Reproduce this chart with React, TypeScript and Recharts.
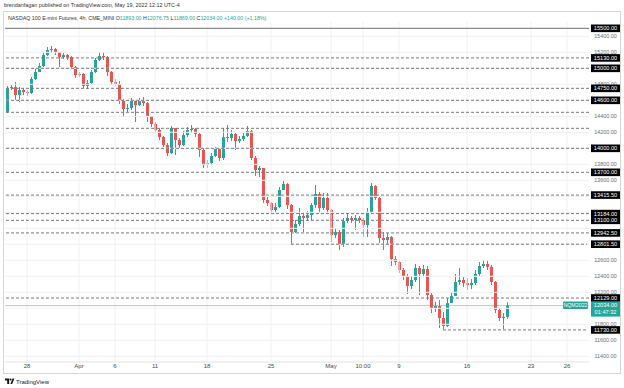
import React from 'react';
import { ComposedChart, Bar, XAxis, YAxis, ReferenceLine } from 'recharts';

// ---------- data ----------
const OPENS = [
  14454, 14754, 14766, 14666, 14729, 14704, 14691, 14866, 14954, 15029,
  15166, 15229, 15241, 15204, 15141, 15166, 15141, 15016, 14916, 14929,
  14779, 14816, 14954, 15104, 15154, 15141, 14954, 14829, 14804, 14604,
  14491, 14504, 14591, 14541, 14591, 14566, 14404, 14304, 14229, 14141,
  14041, 13941, 14254, 14104, 14041, 14166, 14229, 14241, 14179, 13979,
  13791, 13816, 13904, 13991, 13879, 14141, 14129, 14179, 14091, 14116,
  14154, 14216, 13879, 13729, 13754, 13354, 13316, 13229, 13266, 13479,
  13554, 13291, 12954, 13054, 13154, 13129, 13166, 13291, 13429, 13254,
  13379, 13229, 12916, 12954, 12804, 13091, 13129, 13104, 13129, 13104,
  13041, 13204, 13529, 13379, 12879, 12854, 12891, 12616, 12579, 12479,
  12404, 12279, 12354, 12504, 12429, 12491, 12166, 12004, 12029, 11879,
  11779, 12066, 12154, 12329, 12354, 12316, 12291, 12316, 12429, 12529,
  12554, 12519, 12329, 11979, 11879, 11893,
];
const HIGHS = [
  14779, 14791, 14829, 14766, 14754, 14729, 14891, 15004, 15066, 15204,
  15266, 15279, 15254, 15204, 15191, 15179, 15154, 15029, 14954, 14941,
  14854, 14979, 15129, 15204, 15191, 15154, 14966, 14866, 14841, 14616,
  14554, 14629, 14604, 14629, 14641, 14579, 14404, 14329, 14254, 14154,
  14066, 14279, 14254, 14129, 14216, 14266, 14291, 14254, 14191, 14004,
  13854, 13941, 14016, 14004, 14254, 14291, 14229, 14191, 14154, 14191,
  14279, 14229, 13904, 13779, 13754, 13391, 13329, 13316, 13516, 13591,
  13566, 13304, 13104, 13254, 13204, 13216, 13316, 13541, 13454, 13441,
  13441, 13241, 13004, 12979, 13129, 13191, 13154, 13166, 13154, 13129,
  13254, 13566, 13541, 13391, 12954, 12941, 12904, 12654, 12604, 12504,
  12429, 12404, 12554, 12529, 12541, 12529, 12191, 12079, 12104, 11954,
  12129, 12204, 12429, 12504, 12391, 12379, 12366, 12479, 12579, 12604,
  12591, 12541, 12341, 12004, 11941, 12076.75,
];
const LOWS = [
  14441, 14729, 14604, 14579, 14666, 14654, 14679, 14854, 14954, 15016,
  15154, 15191, 15166, 15016, 15116, 15104, 14991, 14879, 14891, 14754,
  14741, 14804, 14941, 15091, 15104, 14904, 14791, 14779, 14554, 14391,
  14454, 14479, 14329, 14529, 14529, 14329, 14266, 14191, 14104, 14016,
  13904, 13929, 13916, 14004, 14029, 14141, 14191, 14141, 13891, 13754,
  13754, 13791, 13891, 13841, 13854, 14079, 14091, 13979, 14066, 14091,
  14141, 13854, 13654, 13641, 13316, 13279, 13191, 13191, 13254, 13479,
  13241, 12801.5, 12941, 13029, 12954, 13091, 13104, 13254, 13191, 13229,
  13179, 12829, 12879, 12729, 12766, 13066, 13066, 12979, 13066, 12891,
  12891, 13191, 13354, 12816, 12729, 12804, 12529, 12541, 12441, 12354,
  12179, 12241, 12329, 12166, 12404, 12104, 11941, 11954, 11754, 11730,
  11766, 12066, 12154, 12291, 12266, 12229, 12241, 12291, 12404, 12504,
  12479, 12291, 11941, 11841, 11741, 11869,
];
const CLOSES = [
  14754, 14766, 14666, 14729, 14704, 14691, 14866, 14954, 15029, 15166,
  15229, 15241, 15204, 15141, 15166, 15141, 15016, 14916, 14929, 14779,
  14816, 14954, 15104, 15154, 15141, 14954, 14829, 14804, 14604, 14491,
  14504, 14591, 14541, 14591, 14566, 14404, 14304, 14229, 14141, 14041,
  13941, 14254, 14104, 14041, 14166, 14229, 14241, 14179, 13979, 13791,
  13816, 13904, 13991, 13879, 14141, 14129, 14179, 14091, 14116, 14154,
  14216, 13879, 13729, 13754, 13354, 13316, 13229, 13266, 13479, 13554,
  13291, 12954, 13054, 13154, 13129, 13166, 13291, 13429, 13254, 13379,
  13229, 12916, 12954, 12804, 13091, 13129, 13104, 13129, 13104, 13041,
  13204, 13529, 13379, 12879, 12854, 12891, 12616, 12579, 12479, 12404,
  12279, 12354, 12504, 12429, 12491, 12166, 12004, 12029, 11879, 11779,
  12066, 12154, 12329, 12354, 12316, 12291, 12316, 12429, 12529, 12554,
  12519, 12329, 11979, 11879, 11893, 12034,
];

const SLOT_COUNT = 146; // candle slots incl. empty space on the right
const TICK_SLOTS = [5, 18, 27, 37, 50, 66, 81, 89, 98, 115, 131, 140];
const TICK_LABELS = ['28', 'Apr', '6', '11', '18', '25', 'May', '10:00', '9', '16', '23', '26'];

const GRID_PRICES = [11400, 11600, 11800, 12000, 12200, 12400, 12600, 12800, 13000, 13200, 13400, 13600, 13800, 14000, 14200, 14400, 14600, 14800, 15000, 15200, 15400];
const GRAY_TICKS = [15400, 15200, 14800, 14400, 14200, 13800, 13600, 12600, 12400, 12200, 11800, 11600, 11400];
const TOP_LINE = 15500;
const LEVELS = [15130, 15000, 14750, 14600, 14000, 13700, 13415.5, 13184, 13100, 12942.5, 12801.5, 12129, 11730];
const LEVEL_START = [null, null, null, null, null, null, null, null, null, null, 71, null, 109];
const PLAIN_LEVELS = [14450, 14250];
const LAST_PRICE = 12034;
const SYMBOL = 'NQM2022';
const COUNTDOWN = '01:47:32';
const Y_DOMAIN = [11329, 15579];

const PUBLISHED = 'brendanfagan published on TradingView.com, May 19, 2022 12:12 UTC-4';
const TITLE = 'NASDAQ 100 E-mini Futures, 4h, CME_MINI';
const OHLC = [['O', '11893.00'], ['H', '12076.75'], ['L', '11869.00'], ['C', '12034.00']];
const CHANGE = '+140.00 (+1.18%)';

// ---------- styling ----------
const W = 624;
const H = 388;
const TEAL = '#26a69a';
const RED = '#ef5350';
const FONT = "'Liberation Sans', Arial, sans-serif";

const rows = Array.from({ length: SLOT_COUNT }, (_, i) =>
  i < CLOSES.length
    ? { i, o: OPENS[i], h: HIGHS[i], l: LOWS[i], c: CLOSES[i], range: [LOWS[i], HIGHS[i]] }
    : { i }
);

const tickLabelOf = (v: number) => {
  const k = TICK_SLOTS.indexOf(v);
  return k >= 0 ? TICK_LABELS[k] : '';
};

function Candle(props: any) {
  const { x, y, width, height, payload } = props;
  if (!payload || payload.o == null || height == null) return null;
  const { o, h, l, c } = payload;
  const top = Math.min(y, y + height);
  const ht = Math.abs(height);
  const k = ht / (h - l || 1);
  const yO = top + (h - o) * k;
  const yC = top + (h - c) * k;
  const color = c >= o ? TEAL : RED;
  const bTop = Math.min(yO, yC);
  const bH = Math.max(1, Math.abs(yO - yC));
  const cx = x + width / 2;
  return (
    <g>
      <line x1={cx} x2={cx} y1={top} y2={top + ht} stroke={color} strokeWidth={1} />
      <rect x={x} y={bTop} width={width} height={bH} fill={color} />
    </g>
  );
}

function PriceTick(props: any) {
  const { y, payload } = props;
  const v = payload.value;
  const txt = v.toFixed(2);
  if (v === LAST_PRICE) {
    return (
      <g>
        <rect x={563} y={y - 4} width={25} height={7.5} fill={TEAL} rx={1} />
        <text x={575.5} y={y - 0.2} fontSize={5.3} fill="#fff" textAnchor="middle" dominantBaseline="central">{SYMBOL}</text>
        <rect x={591} y={y - 4} width={29} height={15} fill={TEAL} />
        <text x={605.5} y={y - 0.2} fontSize={5.6} fill="#fff" textAnchor="middle" dominantBaseline="central">{txt}</text>
        <text x={605.5} y={y + 6.8} fontSize={5.6} fill="#fff" textAnchor="middle" dominantBaseline="central">{COUNTDOWN}</text>
      </g>
    );
  }
  if (v === TOP_LINE || LEVELS.includes(v)) {
    return (
      <g>
        <rect x={591} y={y - 3.8} width={29} height={7.6} fill="#000" />
        <text x={605.5} y={y} fontSize={5.6} fill="#fff" textAnchor="middle" dominantBaseline="central">{txt}</text>
      </g>
    );
  }
  return (
    <text x={605.5} y={y} fontSize={5.4} fill="#6a6d78" textAnchor="middle" dominantBaseline="central">{txt}</text>
  );
}

export default function App() {
  const yTicks = [...GRAY_TICKS, TOP_LINE, ...LEVELS, LAST_PRICE];
  return (
    <div style={{ position: 'fixed', left: 0, top: 0, width: W, height: H, background: '#fff', fontFamily: FONT }}>
      <ComposedChart width={W} height={H} data={rows} margin={{ top: 22, right: 0, bottom: 12, left: 5 }} style={{ fontFamily: FONT }}>
        <XAxis
          dataKey="i"
          type="category"
          ticks={TICK_SLOTS}
          interval={0}
          tickFormatter={tickLabelOf}
          tickLine={false}
          tickSize={0}
          tickMargin={2}
          axisLine={{ stroke: '#e3e3e3' }}
          height={14}
          tick={{ fontSize: 6, fill: '#4a4a4a', fontFamily: FONT }}
        />
        <YAxis
          orientation="right"
          type="number"
          domain={Y_DOMAIN}
          allowDataOverflow
          ticks={yTicks}
          interval={0}
          tick={<PriceTick />}
          tickLine={false}
          axisLine={false}
          width={35}
        />
        {GRID_PRICES.map((p) => (
          <ReferenceLine key={'g' + p} y={p} stroke="#f1f1f3" strokeWidth={1} />
        ))}
        {TICK_SLOTS.map((s) => (
          <ReferenceLine key={'v' + s} x={s} stroke="#f1f1f3" strokeWidth={1} />
        ))}
        <Bar dataKey="range" barSize={3} shape={<Candle />} isAnimationActive={false} />
        <ReferenceLine y={TOP_LINE} stroke="#8a8a8a" strokeWidth={1.2} />
        {PLAIN_LEVELS.map((p) => (
          <ReferenceLine key={'p' + p} y={p} stroke="#7a7a7a" strokeDasharray="3 2" strokeWidth={1} />
        ))}
        {LEVELS.map((p, k) =>
          LEVEL_START[k] == null ? (
            <ReferenceLine key={'l' + p} y={p} stroke="#7a7a7a" strokeDasharray="3 2" strokeWidth={1} />
          ) : (
            <ReferenceLine
              key={'l' + p}
              segment={[{ x: LEVEL_START[k], y: p }, { x: SLOT_COUNT - 1, y: p }]}
              stroke="#7a7a7a"
              strokeDasharray="3 2"
              strokeWidth={1}
            />
          )
        )}
        <ReferenceLine y={LAST_PRICE} stroke={TEAL} strokeOpacity={0.45} strokeWidth={1} />
      </ComposedChart>
      <svg width={W} height={H} style={{ position: 'absolute', left: 0, top: 0, pointerEvents: 'none' }}>
        <text x={4} y={7} fontSize={5.4} fill="#333" fontFamily={FONT}>{PUBLISHED}</text>
        <rect x={3.5} y={11.5} width={617} height={362} fill="none" stroke="#d6d6d6" strokeWidth={1} />
        <text x={8} y={19.5} fontSize={5.3} fill="#333" fontFamily={FONT}>
          <tspan>{TITLE}</tspan>
          {OHLC.map(([k, v]) => (
            <React.Fragment key={k}>
              <tspan fill="#333">{'  ' + k}</tspan>
              <tspan fill={TEAL}>{v}</tspan>
            </React.Fragment>
          ))}
          <tspan fill={TEAL}>{'  ' + CHANGE}</tspan>
        </text>
        <g fill="#131722">
          <path d="M5 378.5 h4.2 v5.5 h-2 v-3.5 h-2.2 z" />
          <circle cx={10.6} cy={379.5} r={1} />
          <path d="M12.6 378.5 h1.8 l-2.2 5.5 h-1.8 z" />
        </g>
        <text x={16} y={383.5} fontSize={6} fill="#131722" fontFamily={FONT}>TradingView</text>
      </svg>
    </div>
  );
}
